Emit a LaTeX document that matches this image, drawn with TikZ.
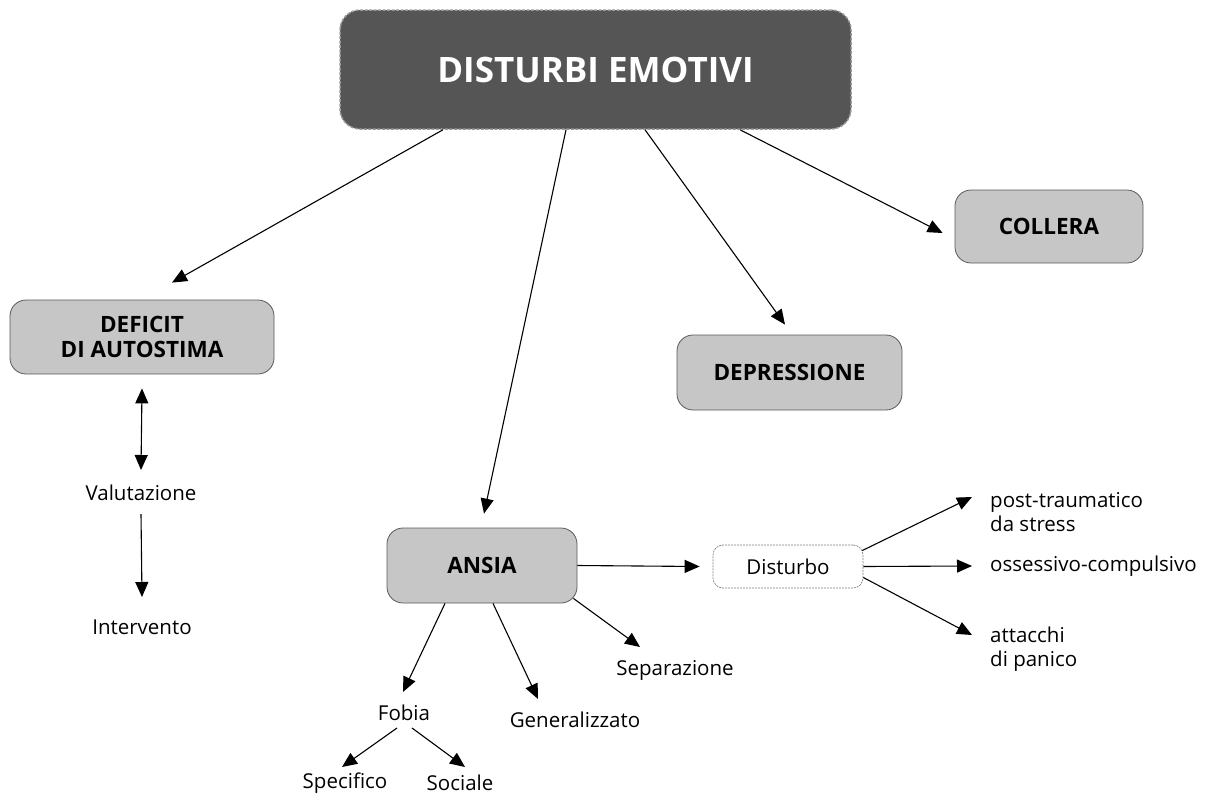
\documentclass[tikz,border=0pt]{standalone}
\usepackage{fontspec}
\setmainfont{Open Sans}
\usetikzlibrary{arrows.meta,calc}
\definecolor{darkbox}{HTML}{555555}
\definecolor{lightbox}{HTML}{C6C6C6}
\definecolor{boxline}{HTML}{5A5A5A}
\begin{document}
\begin{tikzpicture}[x=1pt,y=-1pt,
  arr/.style={draw=black,line width=1.1pt,-{Triangle[length=15pt,width=13pt]}},
  darr/.style={draw=black,line width=1.1pt,{Triangle[length=15pt,width=13pt]}-{Triangle[length=15pt,width=13pt]}},
  topbox/.style={draw=gray!80,dash pattern=on 3pt off 1.5pt,line width=1.5pt,fill=darkbox,rounded corners=20pt,minimum width=511pt,minimum height=119pt,text=white,font=\bfseries\fontsize{35}{40}\selectfont},
  catbox/.style={draw=boxline,line width=0.8pt,fill=lightbox,rounded corners=16pt,font=\bfseries\fontsize{22.5}{25}\selectfont,align=center},
  dbox/.style={draw=gray,dash pattern=on 2pt off 1pt,line width=0.7pt,fill=white,rounded corners=10pt,minimum width=150pt,minimum height=43pt,font=\fontsize{20.5}{24}\selectfont},
  lbl/.style={inner sep=0pt,font=\fontsize{20.5}{24}\selectfont,align=left}]
\useasboundingbox (0,0) rectangle (1207,798);
\node[topbox] (title) at (595.5,69.5) {DISTURBI EMOTIVI};
\node[catbox,minimum width=264pt,minimum height=74pt] (deficit) at (142,337) {DEFICIT\\DI AUTOSTIMA};
\node[catbox,minimum width=188pt,minimum height=73pt] (collera) at (1049,226.5) {COLLERA};
\node[catbox,minimum width=225pt,minimum height=75pt] (depr) at (789.5,372.5) {DEPRESSIONE};
\node[catbox,minimum width=190pt,minimum height=75pt] (ansia) at (482,565.5) {ANSIA};
\node[dbox] (dist) at (788,566.5) {Disturbo};
\node[lbl] (valut) at (141,493) {Valutazione};
\node[lbl] (interv) at (142,627) {Intervento};
\node[lbl,anchor=west] (post) at (990,512) {post-traumatico\\da stress};
\node[lbl,anchor=west] (osse) at (990,566) {ossessivo-compulsivo};
\node[lbl,anchor=west] (attac) at (990,649) {attacchi\\di panico};
\node[lbl] (fobia) at (404,713) {Fobia};
\node[lbl] (gen) at (575,720) {Generalizzato};
\node[lbl] (sep) at (675,670) {Separazione};
\node[lbl] (spec) at (345,783) {Specifico};
\node[lbl] (soc) at (460,783) {Sociale};
% from title
\draw[arr] ([xshift=-152.5pt]title.south) -- ([xshift=30pt,yshift=17pt]deficit.north);
\draw[arr] ([xshift=-29.5pt]title.south) -- ([xshift=2pt,yshift=14pt]ansia.north);
\draw[arr] ([xshift=49.5pt]title.south) -- ([xshift=-4.5pt,yshift=10pt]depr.north);
\draw[arr] ([xshift=144.5pt]title.south) -- ([xshift=-12pt,yshift=-6.5pt]collera.west);
% deficit chain
\draw[darr] ([yshift=-14pt]deficit.south) -- ([yshift=23pt]valut.center);
\draw[arr] ([yshift=-21pt]valut.center) -- ([yshift=30pt]interv.center);
% ansia
\draw[arr] (ansia.east) -- ([xshift=-13pt]dist.west);
\draw[arr] ([xshift=-37pt]ansia.south) -- ([xshift=-1pt,yshift=21pt]fobia.center);
\draw[arr] ([xshift=11pt]ansia.south) -- ([xshift=-37pt,yshift=21pt]gen.center);
\draw[arr] ([xshift=-4pt,yshift=5pt]ansia.south east) -- ([xshift=-35pt,yshift=23pt]sep.center);
\draw[arr] ([xshift=-7pt,yshift=-15pt]fobia.center) -- ([xshift=-3pt,yshift=16pt]spec.center);
\draw[arr] ([xshift=8pt,yshift=-15pt]fobia.center) -- ([xshift=5pt,yshift=16pt]soc.center);
% disturbo
\draw[arr] ([yshift=16pt,xshift=-1pt]dist.east) -- ([xshift=-18pt,yshift=15pt]post.west);
\draw[arr] (dist.east) -- ([xshift=-18pt]osse.west);
\draw[arr] ([yshift=-11pt]dist.east) -- ([xshift=-18pt,yshift=14pt]attac.west);
\end{tikzpicture}
\end{document}
